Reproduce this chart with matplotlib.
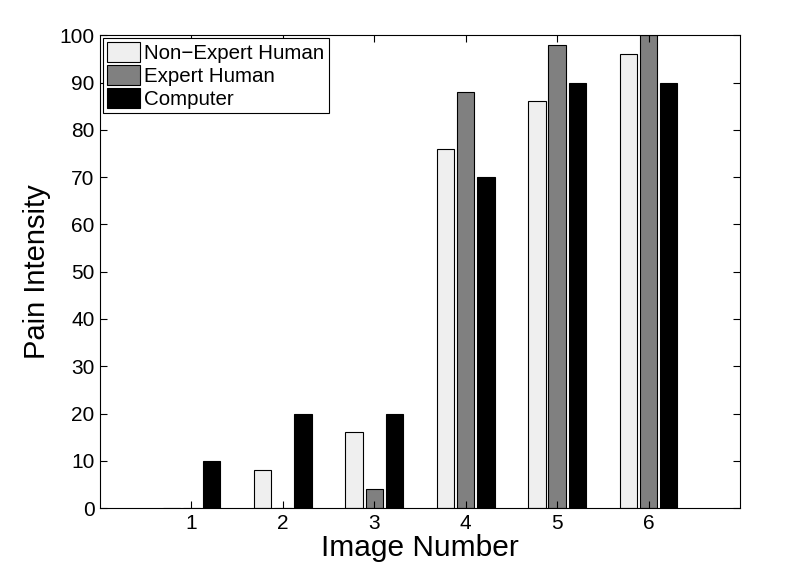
import matplotlib.pyplot as plt
import numpy as np

images = [1, 2, 3, 4, 5, 6]
non_expert = [0, 8, 16, 76, 86, 96]
expert = [0, 0, 4, 88, 98, 100]
computer = [10, 20, 20, 70, 90, 90]

series_names = ["Non\u2212Expert Human", "Expert Human", "Computer"]
series_colors = ["#efefef", "#808080", "#000000"]


def main():
    plt.rcParams["font.family"] = ["Liberation Sans", "DejaVu Sans"]

    fig = plt.figure(figsize=(8, 5.69), dpi=100)
    ax = fig.add_axes([0.125, 0.107, 0.80, 0.831])

    x = np.array(images, dtype=float)
    offsets = [-0.22, 0.0, 0.22]
    for vals, off, name, col in zip([non_expert, expert, computer], offsets,
                                    series_names, series_colors):
        ax.bar(x + off, vals, width=0.19, color=col, edgecolor="black",
               linewidth=0.8, label=name)

    ax.set_xlim(0, 7)
    ax.set_ylim(0, 100)
    ax.set_xticks(images)
    ax.set_yticks(range(0, 101, 10))
    ax.tick_params(direction="in", top=True, right=True, labelsize=15,
                   length=5, width=0.8, pad=4)
    for s in ax.spines.values():
        s.set_linewidth(0.8)

    ax.set_xlabel("Image Number", fontsize=21.5, labelpad=1)
    ax.set_ylabel("Pain Intensity", fontsize=21, labelpad=6)

    leg = ax.legend(loc="upper left", fontsize=14.8, fancybox=False,
                    edgecolor="black", framealpha=1, borderaxespad=0.15,
                    handlelength=1.6, handleheight=1.1, handletextpad=0.2,
                    labelspacing=0.1, borderpad=0.2)
    leg.get_frame().set_linewidth(0.8)

    fig.savefig("out.png", dpi=100)


if __name__ == "__main__":
    main()
